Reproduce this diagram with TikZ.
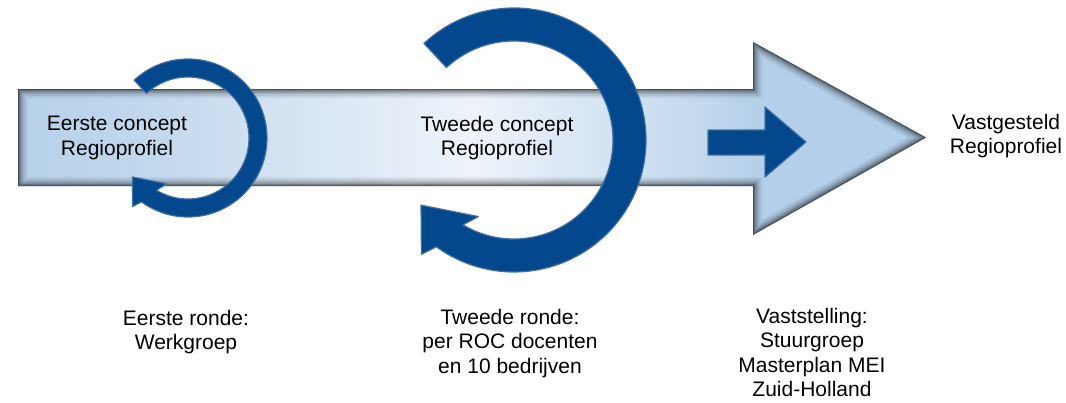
\documentclass[tikz,border=0pt]{standalone}
\usepackage{fontspec}
\setmainfont{Liberation Sans}
\usepackage{tikz}

\definecolor{ringblue}{RGB}{3,72,140}
\definecolor{ringedge}{RGB}{66,110,160}
\definecolor{barleft}{RGB}{183,209,234}
\definecolor{barmid}{RGB}{238,243,250}
\definecolor{barright}{RGB}{180,207,233}

\pgfdeclarehorizontalshading{mainbar}{100bp}{color(0bp)=(barleft); color(25bp)=(barleft);
  color(31bp)=(barleft!85!barmid); color(50bp)=(barmid); color(62bp)=(barright!70!barmid);
  color(66bp)=(barright); color(75bp)=(barright); color(100bp)=(barright)}

\tikzset{
  lbl/.style={align=center, inner sep=0pt, anchor=north, font=\fontsize{21}{24.5}\selectfont},
  ringfill/.style={fill=ringblue, draw=ringedge, line width=1.2pt, line join=round},
  barpath/.style={insert path={(18,-89) -- (753,-89) -- (753,-42) -- (926,-137.5)
      -- (753,-235) -- (753,-186) -- (18,-186) -- cycle}},
  pics/cyclearrow/.style args={#1/#2}{code={
      \filldraw[ringfill] (133:#1) arc[start angle=133, end angle=-126, radius=#1]
        -- (231:{1.114*#1}) -- (215:{0.86*#1}) -- (245:{0.64*#1}) -- (-121:#2)
        arc[start angle=-121, end angle=133, radius=#2] -- cycle;
  }}
}

\begin{document}
\begin{tikzpicture}[x=1pt, y=1pt]
  \useasboundingbox (0,0) rectangle (1066,-402);

  % big process arrow
  \shade[shading=mainbar, barpath];
  \begin{scope}
    \clip[barpath];
    \foreach \w/\o in {18/0.06, 14/0.08, 10/0.1, 7/0.14, 4/0.2, 1.5/0.3}
      \draw[line width=\w pt, black, opacity=\o, line join=miter, barpath];
  \end{scope}

  % rounds
  \pic at (188,-138) {cyclearrow=79/61};
  \pic at (514,-140) {cyclearrow=132/99};

  % step to the end
  \filldraw[ringfill] (708,-130) -- (765,-130) -- (765,-107) -- (806,-142)
    -- (765,-177) -- (765,-155) -- (708,-155) -- cycle;

  \node[lbl] (eerste) at (117,-116) {Eerste concept\\Regioprofiel};
  \node[lbl] (tweede) at (497,-116) {Tweede concept\\Regioprofiel};
  \node[lbl] (vast) at (1006,-114) {Vastgesteld\\Regioprofiel};

  \node[lbl] (ronde1) at (186,-310) {Eerste ronde:\\Werkgroep};
  \node[lbl] (ronde2) at (510,-309) {Tweede ronde:\\per ROC docenten\\en 10 bedrijven};
  \node[lbl] (vaststelling) at (812,-308) {Vaststelling:\\Stuurgroep\\Masterplan MEI\\Zuid-Holland};
\end{tikzpicture}
\end{document}
